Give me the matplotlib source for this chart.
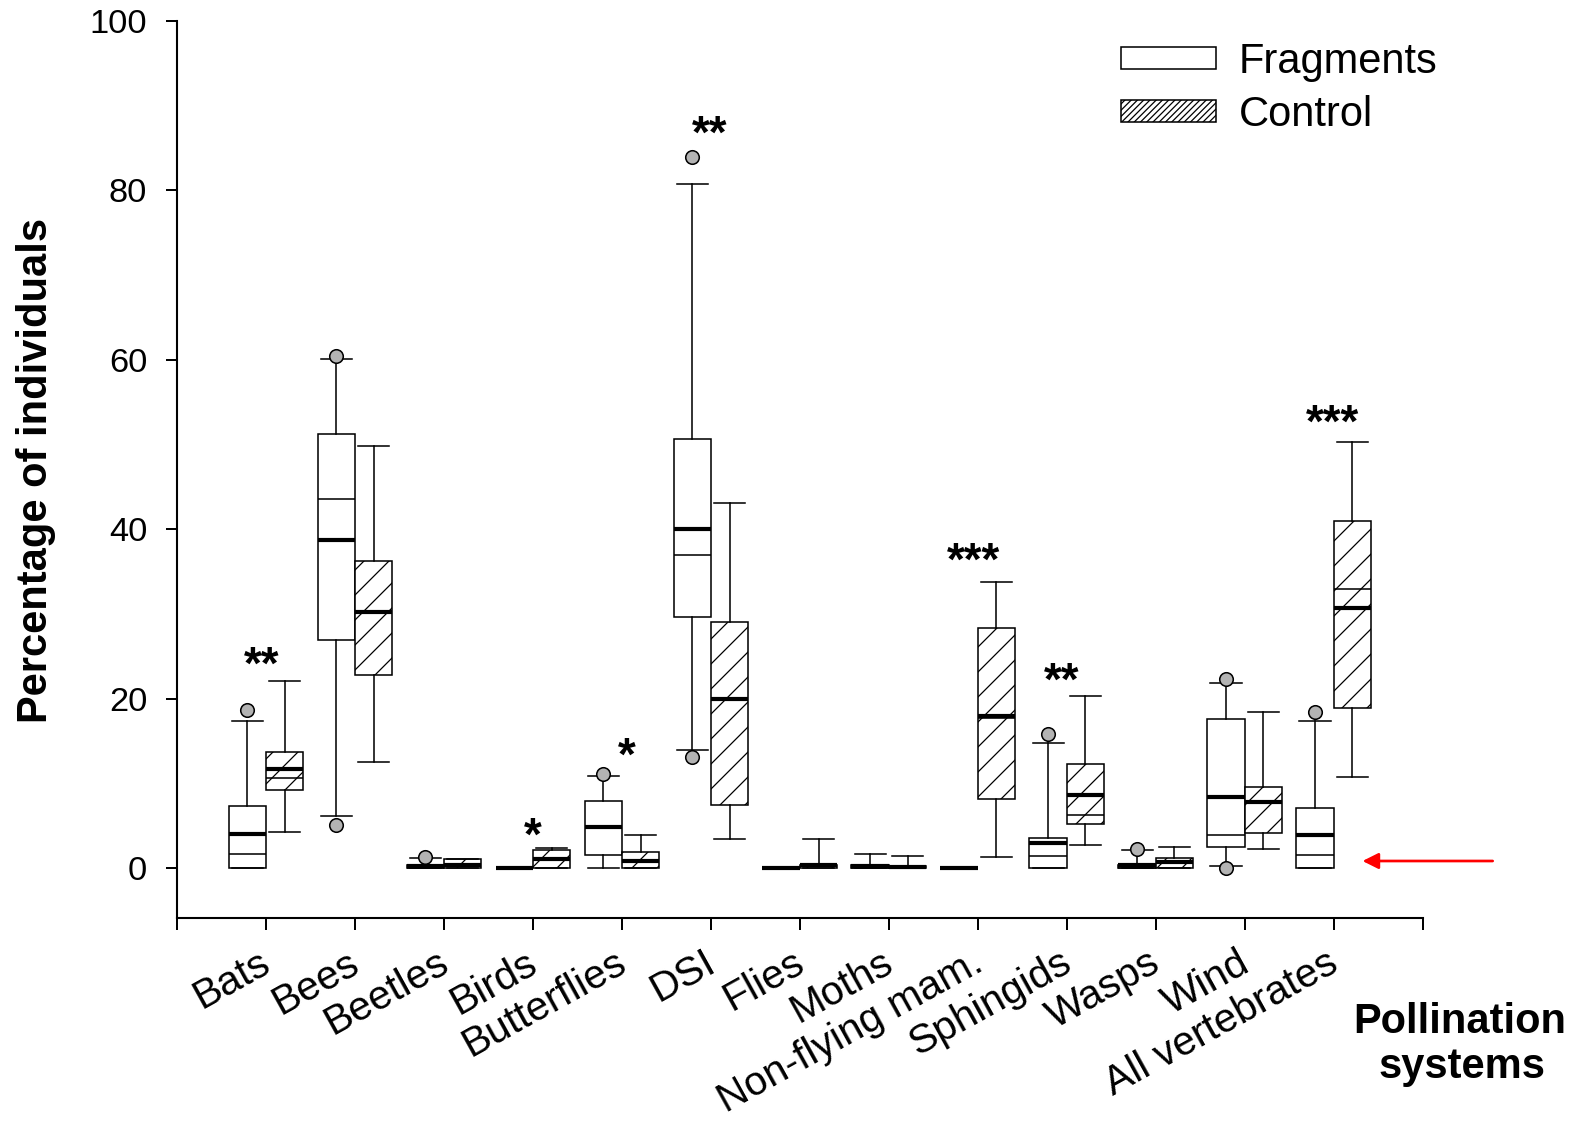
import matplotlib
matplotlib.use("Agg")
import matplotlib.pyplot as plt
from matplotlib.patches import Patch
from matplotlib.transforms import ScaledTranslation
import numpy as np

plt.rcParams['font.family'] = ['Liberation Sans', 'DejaVu Sans']
plt.rcParams['hatch.linewidth'] = 1.2

categories = ["Bats", "Bees", "Beetles", "Birds", "Butterflies", "DSI", "Flies",
              "Moths", "Non-flying mam.", "Sphingids", "Wasps", "Wind", "All vertebrates"]

# Fragments
frag_q1 = [0, 26.9, 0, 0, 1.5, 29.6, 0, 0, 0, 0, 0, 2.5, 0]
frag_med = [1.6, 43.6, 0, 0, 4.8, 36.9, 0, 0, 0, 1.45, 0, 3.9, 1.5]
frag_q3 = [7.3, 51.3, 0.3, 0, 7.9, 50.7, 0, 0.3, 0, 3.6, 0.3, 17.6, 7.1]
frag_mean = [4.0, 38.7, 0.2, 0, 4.8, 40.0, 0, 0.2, 0, 2.9, 0.3, 8.4, 3.9]
frag_whislo = [0, 6.2, 0, 0, 0, 13.9, 0, 0, 0, 0, 0, 0.2, 0]
frag_whishi = [17.4, 60.1, 1.2, 0, 10.9, 80.7, 0, 1.7, 0, 14.8, 2.1, 21.8, 17.3]
frag_fliers = [[18.6], [60.5, 5.1], [1.3], [], [11.1], [84.0, 13.1], [], [], [],
               [15.8], [2.2], [22.3, 0.0], [18.4]]

# Control
ctrl_q1 = [9.2, 22.8, 0, 0, 0, 7.4, 0, 0, 8.1, 5.2, 0, 4.1, 18.9]
ctrl_med = [10.65, 30.2, 0.4, 1.0, 0.9, 19.9, 0.2, 0, 17.7, 6.3, 0.7, 7.7, 33.0]
ctrl_q3 = [13.7, 36.3, 1.06, 2.1, 1.9, 29.1, 0.4, 0.2, 28.3, 12.3, 1.2, 9.6, 41.0]
ctrl_mean = [11.7, 30.2, 0.3, 1.06, 0.86, 19.9, 0.3, 0.1, 18.0, 8.6, 0.7, 7.8, 30.7]
ctrl_whislo = [4.2, 12.5, 0, 0, 0, 3.4, 0, 0, 1.3, 2.7, 0, 2.2, 10.7]
ctrl_whishi = [22.1, 49.8, 1.1, 2.4, 3.9, 43.1, 3.4, 1.4, 33.8, 20.3, 2.5, 18.4, 50.3]
ctrl_fliers = [[] for _ in categories]

# Significance marks: (category position, y center, text)
sig_x = [0.95, 4.0, 5.06, 5.99, 8.95, 9.94, 12.99]
sig_y = [25.4, 5.3, 14.7, 88.2, 37.7, 23.6, 54.0]
sig_txt = ["**", "*", "*", "**", "***", "**", "***"]

yticks = [0, 20, 40, 60, 80, 100]

DPI = 75
fig = plt.figure(figsize=(1576 / DPI, 1125 / DPI), dpi=DPI)
ax = fig.add_axes([177 / 1576, 1 - 918 / 1125, (1422.7 - 177) / 1576, (918 - 21) / 1125])


def make_stats(q1, med, q3, mean, lo, hi, fl):
    return [dict(q1=a, med=b, q3=c, mean=d, whislo=e, whishi=f, fliers=g)
            for a, b, c, d, e, f, g in zip(q1, med, q3, mean, lo, hi, fl)]


n = len(categories)
pos = np.arange(1, n + 1)
w = 0.42
lw = 1.5

common = dict(widths=w, patch_artist=True, showmeans=True, meanline=True,
              manage_ticks=False, capwidths=0.35,
              whiskerprops=dict(color='black', linewidth=lw),
              capprops=dict(color='black', linewidth=lw),
              medianprops=dict(color='black', linewidth=lw),
              meanprops=dict(color='black', linewidth=4.0, linestyle='-'),
              flierprops=dict(marker='o', markerfacecolor='#b3b3b3', markeredgecolor='black',
                              markersize=13, markeredgewidth=1.5, linestyle='none'))

bf = ax.bxp(make_stats(frag_q1, frag_med, frag_q3, frag_mean, frag_whislo, frag_whishi, frag_fliers),
            positions=pos - w / 2,
            boxprops=dict(facecolor='white', edgecolor='black', linewidth=lw), **common)
bc = ax.bxp(make_stats(ctrl_q1, ctrl_med, ctrl_q3, ctrl_mean, ctrl_whislo, ctrl_whishi, ctrl_fliers),
            positions=pos + w / 2,
            boxprops=dict(facecolor='white', edgecolor='black', linewidth=lw, hatch='/'), **common)

ax.set_xlim(0, n + 1)
ax.set_ylim(-5.9, 100)
ax.spines['top'].set_visible(False)
ax.spines['right'].set_visible(False)
ax.spines['left'].set_linewidth(2.0)
ax.spines['bottom'].set_linewidth(2.0)

ax.set_yticks(yticks)
ax.set_yticklabels([str(t) for t in yticks])
ax.tick_params(axis='y', direction='out', length=10.5, width=1.9, pad=18, labelsize=33)

ax.set_xticks(np.arange(0, n + 2))
ax.set_xticklabels([''] + categories + [''])
ax.tick_params(axis='x', direction='out', length=11.5, width=1.9, pad=38, labelsize=39)
shift = ScaledTranslation(7 / DPI, 0, fig.dpi_scale_trans)
for lab in ax.get_xticklabels():
    lab.set_rotation(29)
    lab.set_ha('right')
    lab.set_va('baseline')
    lab.set_rotation_mode('anchor')
    lab.set_transform(lab.get_transform() + shift)

# significance asterisks
for x, y, t in zip(sig_x, sig_y, sig_txt):
    ax.text(x, y - 3.1, t, ha='center', va='baseline', fontsize=44, fontweight='bold')

# red arrow
ax.annotate('', xy=(13.30, 0.83), xytext=(14.81, 0.83),
            arrowprops=dict(arrowstyle='-|>', color='#ff0000', lw=2.6, mutation_scale=32),
            annotation_clip=False)

# legend
handles = [Patch(facecolor='white', edgecolor='black', linewidth=lw),
           Patch(facecolor='white', edgecolor='black', linewidth=lw, hatch='////')]
ax.legend(handles, ['Fragments', 'Control'], loc='upper left',
          bbox_to_anchor=(1121 / 1576, 1 - 42 / 1125), bbox_transform=fig.transFigure,
          frameon=False, borderpad=0, borderaxespad=0, handlelength=2.28, handleheight=0.43,
          handletextpad=0.55, labelspacing=0.3, fontsize=40)

# axis titles
fig.text(47 / 1576, 1 - 470 / 1125, 'Percentage of individuals', rotation=90,
         rotation_mode='anchor', ha='center', va='baseline', fontsize=40, fontweight='bold')
fig.text(1460 / 1576, 1 - 1033 / 1125, 'Pollination', ha='center', va='baseline',
         fontsize=40, fontweight='bold')
fig.text(1462 / 1576, 1 - 1078 / 1125, 'systems', ha='center', va='baseline',
         fontsize=40, fontweight='bold')

fig.savefig('out.png', dpi=DPI, facecolor='white')
